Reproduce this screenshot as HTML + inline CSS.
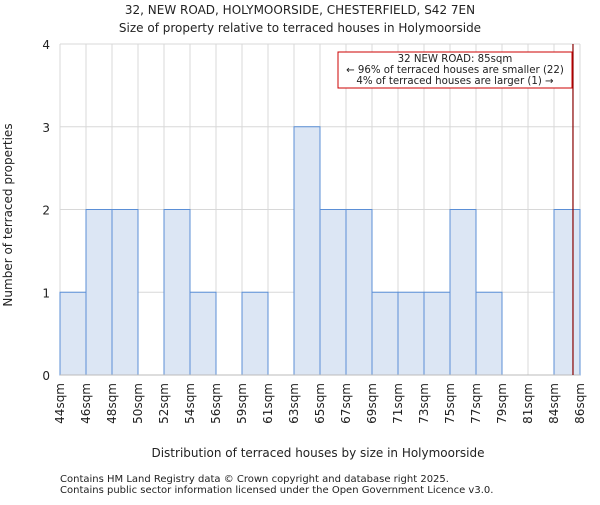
<!DOCTYPE html>
<html><head><meta charset="utf-8"><style>
body{margin:0;background:#fff;}
svg text{font-family:"DejaVu Sans","Liberation Sans",sans-serif;fill:#222;}
</style></head><body>
<svg width="600" height="500" viewBox="0 0 600 500" xmlns="http://www.w3.org/2000/svg">
<text x="300" y="14" text-anchor="middle" font-size="12">32, NEW ROAD, HOLYMOORSIDE, CHESTERFIELD, S42 7EN</text>
<text x="300" y="32" text-anchor="middle" font-size="12">Size of property relative to terraced houses in Holymoorside</text>
<g id="grid"></g>
<g id="bars"></g>
<g id="axes"></g>
<text transform="translate(12,215) rotate(-90)" text-anchor="middle" font-size="12">Number of terraced properties</text>
<text x="318" y="457" text-anchor="middle" font-size="12">Distribution of terraced houses by size in Holymoorside</text>
<text x="60" y="482" font-size="10" fill="#444">Contains HM Land Registry data © Crown copyright and database right 2025.</text>
<text x="60" y="493" font-size="10" fill="#444">Contains public sector information licensed under the Open Government Licence v3.0.</text>
<g>
<rect x="338" y="52" width="234" height="36" fill="#fff" stroke="#cc0000" stroke-width="1"/>
<text x="455" y="62" text-anchor="middle" font-size="10.2">32 NEW ROAD: 85sqm</text>
<text x="455" y="73" text-anchor="middle" font-size="10.2">← 96% of terraced houses are smaller (22)</text>
<text x="455" y="84" text-anchor="middle" font-size="10.2">4% of terraced houses are larger (1) →</text>
</g>
</svg>
<script>
const binLabels=["44sqm","46sqm","48sqm","50sqm","52sqm","54sqm","56sqm","59sqm","61sqm","63sqm","65sqm","67sqm","69sqm","71sqm","73sqm","75sqm","77sqm","79sqm","81sqm","84sqm","86sqm"];
const counts=[1,2,2,0,2,1,0,1,0,3,2,2,1,1,1,2,1,0,0,2];
const yTicks=[0,1,2,3,4];
const propertyBinPos=19.73;
const NS="http://www.w3.org/2000/svg";
const L=60,R=580,T=44,B=375,yMax=4;
const xs=i=>L+(R-L)*i/counts.length;
const ys=v=>B-(B-T)*v/yMax;
function mk(tag,attrs,parent){const e=document.createElementNS(NS,tag);for(const k in attrs)e.setAttribute(k,attrs[k]);parent.appendChild(e);return e;}
const grid=document.getElementById('grid'),bars=document.getElementById('bars'),axes=document.getElementById('axes');
yTicks.forEach(t=>{const l=mk('line',{x1:L,x2:R,y1:ys(t),y2:ys(t),stroke:'#d8d8d8'},grid);


const tx=mk('text',{x:L-10,y:ys(t)+5,'text-anchor':'end','font-size':12},axes);tx.textContent=t;

});
binLabels.forEach((lab,i)=>{const l=mk('line',{x1:xs(i),x2:xs(i),y1:T,y2:B,stroke:'#d8d8d8'},grid);


const tx=mk('text',{transform:`translate(${xs(i)+4},${B+8}) rotate(-90)`,'text-anchor':'end','font-size':12},axes);tx.textContent=lab;

});
counts.forEach((c,i)=>{if(!c)return;const r=mk('rect',{x:xs(i),y:ys(c),width:xs(i+1)-xs(i),height:B-ys(c),fill:'#dce6f4',stroke:'#5b8fd6','stroke-width':1},bars);

});
const ax=mk('line',{x1:L,x2:R,y1:B,y2:B,stroke:'#bbb'},axes);


const ml=mk('line',{x1:xs(propertyBinPos),x2:xs(propertyBinPos),y1:T,y2:B,stroke:'#880000','stroke-width':1.2},axes);


</script>
</body></html>
